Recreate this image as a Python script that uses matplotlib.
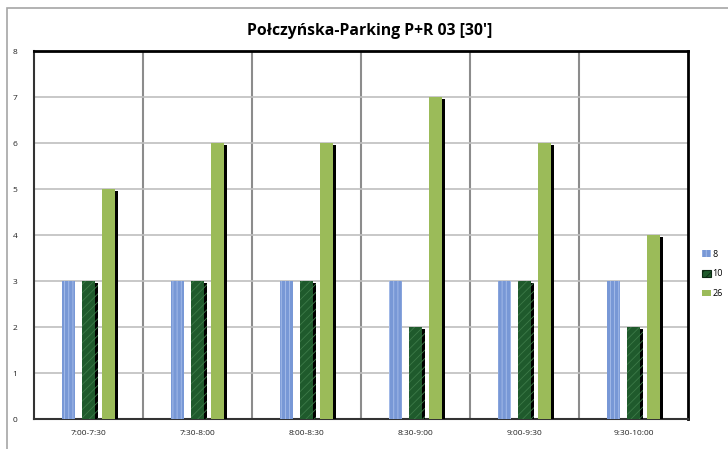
import numpy as np
import matplotlib.pyplot as plt
from matplotlib import patheffects
from matplotlib.patches import Rectangle

# data
categories = ['7:00-7:30', '7:30-8:00', '8:00-8:30', '8:30-9:00', '9:00-9:30', '9:30-10:00']
series_names = ['8', '10', '26']
vals_8 = [3, 3, 3, 3, 3, 3]
vals_10 = [3, 3, 3, 2, 3, 2]
vals_26 = [5, 6, 6, 7, 6, 4]

colors = ['#7898d6', '#1f5a2c', '#9bbb59']
hatch_colors = ['#a9bfeb', '#3d7a48', None]

plt.rcParams['font.family'] = ['Open Sans', 'DejaVu Sans']
plt.rcParams['hatch.linewidth'] = 0.6

fig = plt.figure(figsize=(7.28, 4.49), dpi=100)
ax = fig.add_axes([34 / 728, 30 / 449, 654 / 728, 368 / 449])

# outer chart frame
fig.patches.append(Rectangle((7 / 728, -0.1), 1.0, (449 - 7.5) / 449 + 0.1,
                             transform=fig.transFigure, fill=False,
                             edgecolor='#a6a6a6', linewidth=1.2))

x = np.arange(len(categories))
width = 0.125
step = 0.185
shadow = [patheffects.SimplePatchShadow(offset=(1.6, -1.4), shadow_rgbFace='black', alpha=1.0),
          patheffects.Normal()]

for i, (vals, name) in enumerate(zip([vals_8, vals_10, vals_26], series_names)):
    bars = ax.bar(x + (i - 1) * step, vals, width, color=colors[i], label=name,
                  zorder=3, linewidth=0)
    for b in bars:
        if hatch_colors[i]:
            b.set_hatch('||||' if i == 0 else '////')
            b.set_edgecolor(hatch_colors[i])
        if i > 0:
            b.set_path_effects(shadow)

ax.set_xlim(-0.5, len(categories) - 0.5)
ax.set_ylim(0, 8)
ax.set_yticks(range(0, 9))
ax.set_xticks(x)
ax.set_xticklabels(categories)
ax.tick_params(axis='both', length=0, labelsize=6, colors='#222222')
ax.tick_params(axis='x', pad=8)
ax.tick_params(axis='y', pad=12)

ax.grid(axis='y', color='#bfbfbf', linewidth=1.2, zorder=0)
for b in np.arange(0.5, len(categories) - 0.5, 1):
    ax.axvline(b, color='#8c8c8c', linewidth=1.5, zorder=1)

for s in ['top', 'right']:
    ax.spines[s].set_color('black')
    ax.spines[s].set_linewidth(2)
for s in ['left', 'bottom']:
    ax.spines[s].set_color('#333333')
    ax.spines[s].set_linewidth(1.5)

fig.text(370 / 728, 1 - 31 / 449, "Połczyńska-Parking P+R 03 [30']",
         ha='center', va='center', fontsize=11.3, fontweight='bold')

leg = fig.legend(loc='center left', bbox_to_anchor=(697 / 728, 1 - 274 / 449),
                 frameon=False, fontsize=6.5, handlelength=1.0, handleheight=0.7,
                 handletextpad=0.2, labelspacing=1.2, borderpad=0)
for h in leg.legend_handles:
    h.set_path_effects([])
leg.legend_handles[1].set_edgecolor('#0d2a14')
leg.legend_handles[1].set_linewidth(0.8)

fig.savefig('out.png', dpi=100)
